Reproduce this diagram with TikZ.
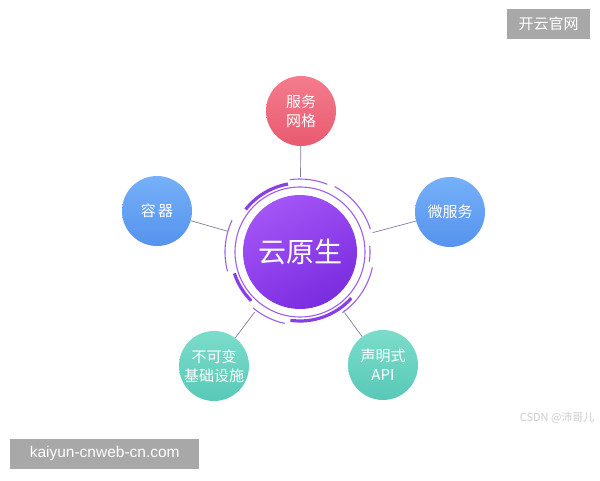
\documentclass[tikz,border=0pt]{standalone}
\usepackage{fontspec}
\setmainfont{Liberation Sans}
\newfontfamily\cjk{Noto Sans CJK SC}
\usetikzlibrary{calc}
\definecolor{corehi}{HTML}{A455F6}
\definecolor{corelo}{HTML}{7A2CE0}
\definecolor{ringc}{HTML}{9E5EEB}
\definecolor{ringd}{HTML}{8A3FE6}
\definecolor{pinkhi}{HTML}{F47C8C}
\definecolor{pinklo}{HTML}{E85A70}
\definecolor{bluehi}{HTML}{75B0F8}
\definecolor{bluelo}{HTML}{5593EE}
\definecolor{tealhi}{HTML}{7CDCCB}
\definecolor{teallo}{HTML}{58C9B7}
\definecolor{linec}{HTML}{857A9C}
\definecolor{wmgray}{HTML}{A8A8A8}
\definecolor{csdn}{HTML}{CDCDCD}
\tikzset{
  sat/.style={circle, minimum size=70pt, inner sep=0pt, text=white,
    font=\cjk\fontsize{15}{19}\selectfont, align=center},
  pinksat/.style={sat, top color=pinkhi, bottom color=pinklo},
  bluesat/.style={sat, top color=bluehi, bottom color=bluelo},
  tealsat/.style={sat, top color=tealhi, bottom color=teallo},
  conn/.style={draw=linec, line width=0.7pt},
  thinring/.style={draw=ringc, line width=1.1pt},
  boldring/.style={draw=ringd, line width=3.2pt},
  wmbox/.style={fill=wmgray, text=white, inner sep=0pt, anchor=south west}
}
\begin{document}
\begin{tikzpicture}[x=1pt,y=1pt]
\useasboundingbox (0,0) rectangle (600,480);
\fill[white] (0,0) rectangle (600,480);

% core
\coordinate (c) at (300,228);
\node[circle, minimum size=114pt, inner sep=0pt, top color=corehi, bottom color=corelo,
  shading angle=30, text=white, font=\cjk\fontsize{28}{32}\selectfont] (core) at (c) {云原生};
\node[circle, minimum size=150pt, inner sep=0pt] (ring) at (c) {};

% rings
\draw[thinring] (c) circle (65);
\draw[boldring] ($(c)+(100:69)$) arc (100:142:69);
\draw[boldring] ($(c)+(198:69)$) arc (198:225:69);
\draw[boldring] ($(c)+(262:69)$) arc (262:318:69);
\draw[thinring] ($(c)+(18:74)$) arc (18:62:74);
\draw[thinring] ($(c)+(68:73)$) arc (68:98:73);
\draw[thinring] ($(c)+(155:75)$) arc (155:195:75);
\draw[thinring] ($(c)+(230:73)$) arc (230:258:73);
\draw[thinring] ($(c)+(-12:74)$) arc (-12:-55:74);
\draw[thinring] ($(c)+(5:70)$) arc (5:-8:70);

% satellites
\node[pinksat] (fw) at (301,369) {服务\\网格};
\node[bluesat] (rq) at (157,269) {容\,器};
\node[bluesat] (wf) at (450,268) {微服务};
\node[tealsat] (bk) at (214,114) {不可变\\基础设施};
\node[tealsat] (sm) at (383,115) {声明式\\API};

% connectors
\draw[conn] (fw) -- (ring);
\draw[conn] (rq) -- (ring);
\draw[conn] (wf) -- (ring);
\draw[conn] (bk) -- (ring);
\draw[conn] (sm) -- (ring);

% watermarks
\node[wmbox, minimum width=83pt, minimum height=30pt] (wm1) at (507,441) {};
\node[text=white, font=\cjk\fontsize{15}{18}\selectfont] (wm1t) at (wm1.center) {开云官网};
\node[wmbox, minimum width=189pt, minimum height=30pt] (wm2) at (10,11) {};
\node[text=white, font=\fontsize{15.5}{18}\selectfont] (wm2t) at (wm2.center) {kaiyun-cnweb-cn.com};
\node[text=csdn, font=\cjk\fontsize{11}{13}\selectfont, anchor=east] (csdn) at (598,62) {CSDN @沛哥儿};
\end{tikzpicture}
\end{document}
